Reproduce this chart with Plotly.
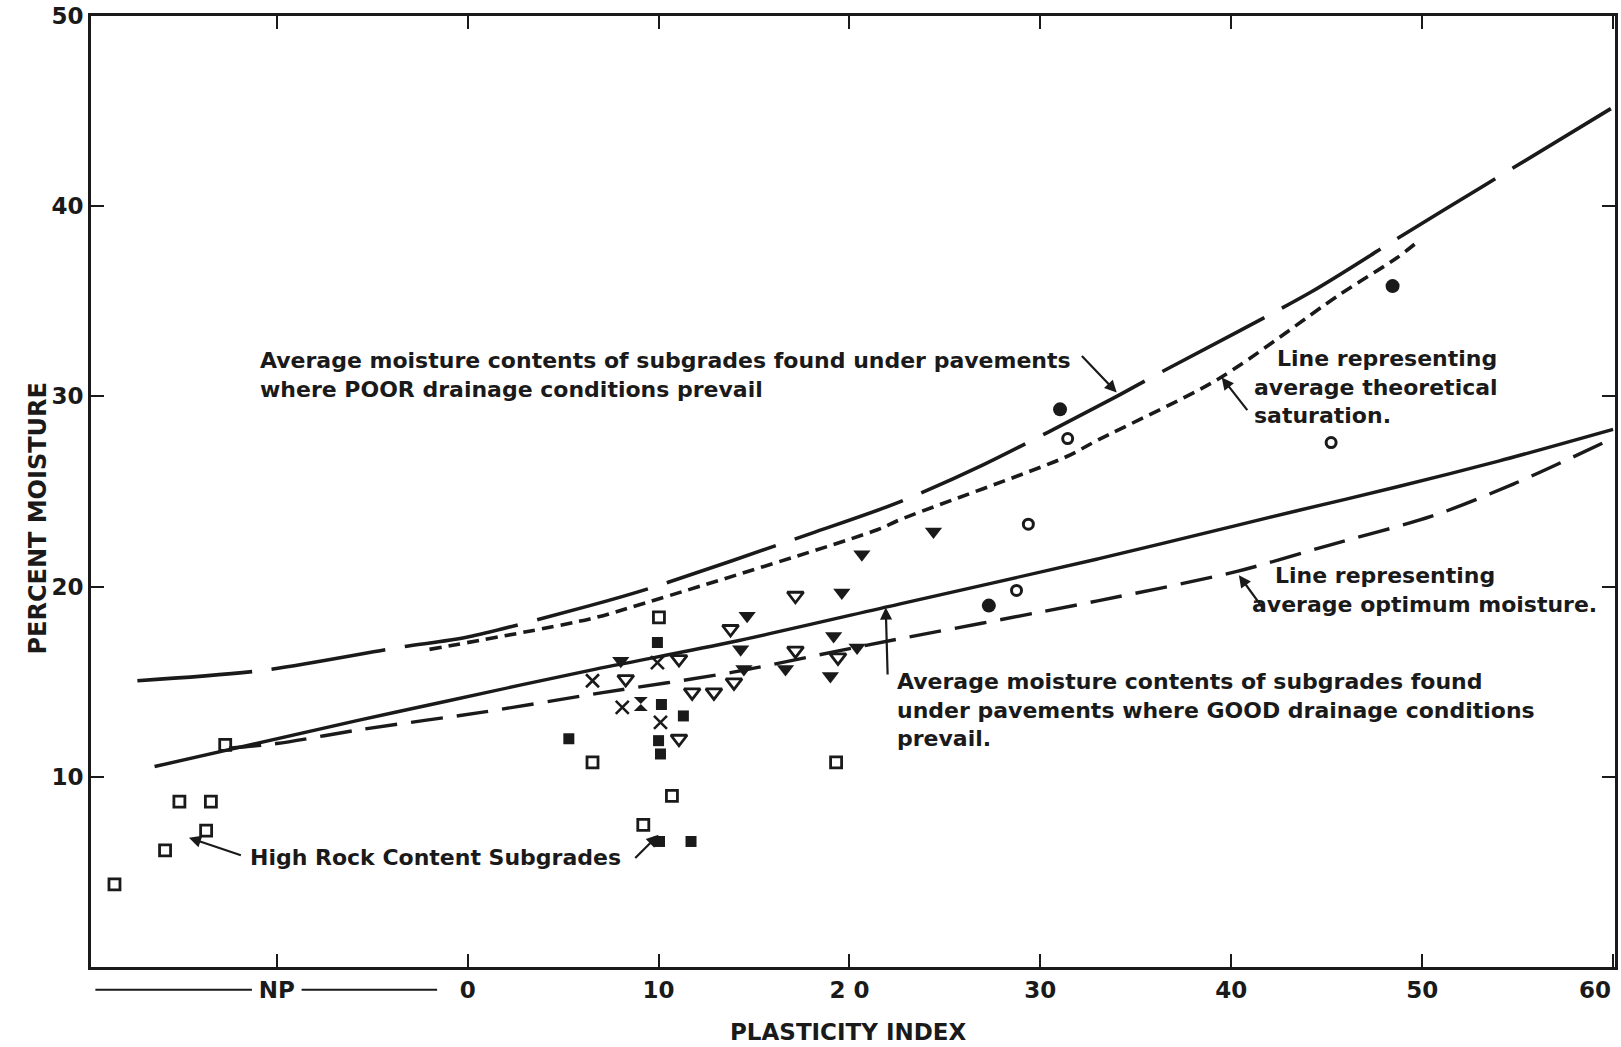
import plotly.graph_objects as go

# ---------------- data ----------------
# curves
poor_x = [-17.3, -10.7, -3.6, 0.0, 6.4, 9.5, 18.0, 22.5, 27.0, 34.0, 36.0, 44.2, 48.7, 53.1, 60.0]
poor_y = [15.05, 15.6, 16.8, 17.35, 19.0, 19.9, 22.8, 24.4, 26.4, 30.0, 31.1, 35.5, 38.3, 41.0, 45.2]

sat_x = [-2.0, 6.4, 9.5, 21.5, 22.6, 31.3, 33.0, 39.3, 45.6, 48.7, 49.6]
sat_y = [16.7, 18.3, 19.2, 23.0, 23.5, 26.8, 27.7, 30.9, 35.3, 37.3, 38.0]

good_x = [-16.4, -5.8, -1.0, 6.4, 13.9, 22.6, 33.0, 36.3, 43.5, 48.7, 54.0, 60.0]
good_y = [10.54, 12.95, 14.0, 15.6, 17.1, 19.08, 21.45, 22.25, 24.0, 25.25, 26.6, 28.27]

opt_x = [-12.5, -10.0, -5.5, 0.8, 6.9, 13.9, 20.8, 33.0, 40.3, 45.2, 50.5, 54.8, 60.0]
opt_y = [11.5, 11.75, 12.5, 13.4, 14.4, 15.5, 16.9, 19.25, 20.8, 22.2, 23.7, 25.4, 27.8]

# point groups
open_sq_x = [-18.5, -15.85, -15.1, -13.7, -13.45, -12.7, 6.54, 9.2, 10.02, 10.7, 19.3]
open_sq_y = [4.34, 6.13, 8.69, 7.17, 8.69, 11.68, 10.76, 7.47, 18.38, 9.0, 10.76]

fill_sq_x = [5.3, 9.94, 10.15, 11.3, 10.0, 10.1, 10.05, 11.7]
fill_sq_y = [12.0, 17.06, 13.8, 13.2, 11.9, 11.2, 6.6, 6.6]

cross_x = [6.54, 8.1, 9.94, 10.1]
cross_y = [15.05, 13.65, 16.0, 12.86]

hour_x = [9.07]
hour_y = [13.83]

open_tri_x = [8.28, 11.07, 11.07, 11.76, 12.9, 13.95, 13.77, 17.17, 17.17, 19.4]
open_tri_y = [15.14, 16.19, 12.0, 14.44, 14.44, 14.96, 17.77, 19.52, 16.63, 16.28]

fill_tri_x = [8.02, 14.3, 14.47, 14.64, 16.65, 19.0, 19.17, 19.6, 20.4, 20.65, 24.4]
fill_tri_y = [16.1, 16.7, 15.67, 18.47, 15.67, 15.3, 17.4, 19.69, 16.8, 21.7, 22.9]

fill_circ_x = [27.3, 31.03, 48.45]
fill_circ_y = [19.0, 29.32, 35.8]

open_circ_x = [28.75, 29.37, 31.43, 45.23]
open_circ_y = [19.8, 23.28, 27.78, 27.57]

# axes
x_tickvals = [-10, 0, 10, 20, 30, 40, 50, 60]
x_ticktext = ["NP", "0", "10", "2 0", "30", "40", "50", ""]
y_tickvals = [10, 20, 30, 40, 50]
y_ticktext = ["10", "20", "30", "40", "50"]

FONT = "DejaVu Sans"
INK = "#1a1a1a"

fig = go.Figure()

# curves
fig.add_trace(go.Scatter(x=poor_x, y=poor_y, mode="lines", line_shape="spline",
                         line=dict(color=INK, width=3.6, dash="115px,20px", smoothing=0.8)))
fig.add_trace(go.Scatter(x=sat_x, y=sat_y, mode="lines", line_shape="spline",
                         line=dict(color=INK, width=3.6, dash="12px,7px", smoothing=0.8)))
fig.add_trace(go.Scatter(x=good_x, y=good_y, mode="lines", line_shape="spline",
                         line=dict(color=INK, width=3.4, smoothing=0.8)))
fig.add_trace(go.Scatter(x=opt_x, y=opt_y, mode="lines", line_shape="spline",
                         line=dict(color=INK, width=3.4, dash="32px,14px", smoothing=0.8)))

def pts(x, y, symbol, size, lw=2.5):
    fig.add_trace(go.Scatter(x=x, y=y, mode="markers",
                             marker=dict(symbol=symbol, size=size, color=INK,
                                         line=dict(color=INK, width=lw))))

pts(open_sq_x, open_sq_y, "square-open", 11, 2.8)
pts(fill_sq_x, fill_sq_y, "square", 11, 0)
pts(cross_x, cross_y, "x-thin-open", 13, 2.6)
pts(hour_x, hour_y, "hourglass", 14, 0)
pts(open_tri_x, open_tri_y, "triangle-down-open", 14, 2.8)
pts(fill_tri_x, fill_tri_y, "triangle-down", 15, 0)
pts(fill_circ_x, fill_circ_y, "circle", 14, 0)
pts(open_circ_x, open_circ_y, "circle-open", 10, 3.0)

# ---------------- annotations ----------------
annotations = []

def txt(x, y, text, xanchor="left", yanchor="middle", align="left", size=22):
    annotations.append(dict(x=x, y=y, xref="x", yref="y", text=text, showarrow=False,
                            xanchor=xanchor, yanchor=yanchor, align=align,
                            font=dict(family=FONT, size=size, color=INK)))

def arrow(tx, ty, hx, hy):
    annotations.append(dict(x=hx, y=hy, ax=tx, ay=ty, xref="x", yref="y", axref="x", ayref="y",
                            text="", showarrow=True, arrowhead=2, arrowsize=1.1,
                            arrowwidth=2.2, arrowcolor=INK, standoff=0, startstandoff=0))

txt(-11.0, 31.1, "<b>Average moisture contents of subgrades found under pavements<br>"
                  "where POOR drainage conditions prevail</b>")
arrow(32.1, 32.2, 34.0, 30.2)

txt(41.1, 30.5, "<b>   Line representing<br>average theoretical<br>saturation.</b>")
arrow(40.9, 29.2, 39.5, 31.0)

txt(41.0, 19.8, "<b>   Line representing<br>average optimum moisture.</b>")
arrow(41.7, 18.8, 40.4, 20.6)

txt(22.4, 13.5, "<b>Average moisture contents of subgrades found<br>"
                "under pavements where GOOD drainage conditions<br>prevail.</b>")
arrow(22.0, 15.3, 21.9, 18.9)

txt(-11.5, 5.75, "<b>High Rock Content Subgrades</b>")
arrow(-11.8, 5.85, -14.6, 6.8)
arrow(8.7, 5.65, 10.0, 6.95)

# last bottom tick label, kept inside the page edge
annotations.append(dict(x=60, y=-0.024, xref="x", yref="paper", xanchor="right", yanchor="middle",
                        text="<b>60</b>", showarrow=False,
                        font=dict(family=FONT, size=23, color=INK)))

# axis titles
annotations.append(dict(x=0.497, y=-0.068, xref="paper", yref="paper", yanchor="middle",
                        text="<b>PLASTICITY INDEX</b>", showarrow=False,
                        font=dict(family=FONT, size=23, color=INK)))
annotations.append(dict(x=-0.045, y=0.472, xref="paper", yref="paper", textangle=-90,
                        text="<b>PERCENT MOISTURE</b>", showarrow=False,
                        font=dict(family=FONT, size=24, color=INK)))

fig.update_layout(annotations=annotations)

# NP bracket lines beside the tick label
for x0, x1 in [(-19.5, -11.3), (-8.7, -1.6)]:
    fig.add_shape(type="line", xref="x", yref="paper", x0=x0, x1=x1, y0=-0.024, y1=-0.024,
                  line=dict(color=INK, width=2))

fig.update_xaxes(range=[-19.73, 60.1], tickvals=x_tickvals, ticktext=x_ticktext,
                 ticks="inside", ticklen=13, tickwidth=2, tickcolor=INK,
                 showline=True, linewidth=3, linecolor=INK, mirror="ticks",
                 showgrid=False, zeroline=False, ticklabeloverflow="allow",
                 tickfont=dict(family=FONT, size=23, color=INK, weight="bold"))
fig.update_yaxes(range=[0, 50], tickvals=y_tickvals, ticktext=y_ticktext,
                 ticks="inside", ticklen=13, tickwidth=2, tickcolor=INK,
                 showline=True, linewidth=3, linecolor=INK, mirror="ticks",
                 showgrid=False, zeroline=False, ticklabeloverflow="allow",
                 tickfont=dict(family=FONT, size=23, color=INK, weight="bold"))

fig.update_layout(width=1621, height=1047, showlegend=False,
                  margin=dict(l=91, r=3, t=14, b=80),
                  paper_bgcolor="white", plot_bgcolor="white",
                  font=dict(family=FONT, color=INK))

fig.write_html("out.html")
